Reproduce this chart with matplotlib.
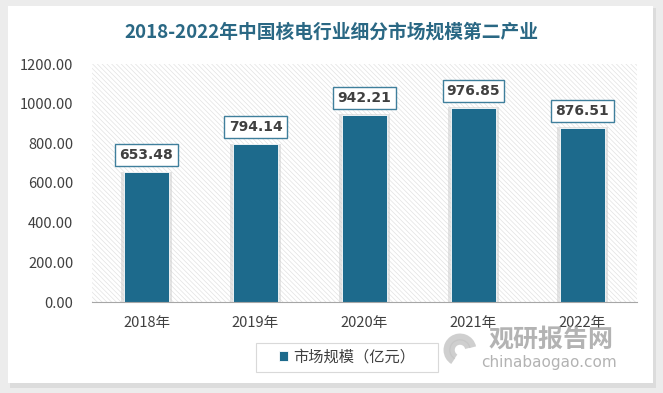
import matplotlib.pyplot as plt
from matplotlib.patches import Rectangle, Arc

plt.rcParams['font.family'] = ['Noto Sans CJK SC', 'DejaVu Sans']
plt.rcParams['hatch.linewidth'] = 0.5

# data
years = ["2018年", "2019年", "2020年", "2021年", "2022年"]
values = [653.48, 794.14, 942.21, 976.85, 876.51]
series_name = "市场规模（亿元）"
title = "2018-2022年中国核电行业细分市场规模第二产业"

bar_color = "#1d6a8c"
title_color = "#2a6884"

W, H = 663, 393
fig = plt.figure(figsize=(W / 100, H / 100), dpi=100)
fig.patch.set_facecolor("#ececec")

def px(x0, y0):
    # pixel position (from top left) -> figure fraction
    return x0 / W, 1 - y0 / H

# white card with soft shadow (behind the axes)
fig.patches.append(Rectangle(px(10, 388), 646 / W, 380 / H, transform=fig.transFigure,
                             facecolor="#dcdcdc", edgecolor="none", zorder=-10))
fig.patches.append(Rectangle(px(8, 383), 645 / W, 377 / H, transform=fig.transFigure,
                             facecolor="white", edgecolor="none", zorder=-9))

ax = fig.add_axes([92 / W, 1 - 302 / H, 545 / W, 238 / H])
ax.set_facecolor("none")

x = list(range(len(years)))
ax.set_xlim(-0.5, len(years) - 0.5)
ax.set_ylim(0, 1200)

# hatched plot area background
ax.add_patch(Rectangle((-0.5, 0), len(years), 1200, facecolor="white", edgecolor="#e2e2e2",
                       hatch="\\" * 7, linewidth=0, zorder=0))

# bar shadows then bars
ax.bar(x, [v + 4 for v in values], width=0.47, color="#cfcfcf", alpha=0.55, zorder=1)
ax.bar(x, values, width=0.42, color=bar_color, edgecolor="white", linewidth=0.6, zorder=2,
       label=series_name)

for i, v in zip(x, values):
    ax.text(i, v + 88, "%.2f" % v, ha="center", va="center", fontsize=10, fontweight="bold",
            color="#404040", family=["DejaVu Sans"],
            bbox=dict(boxstyle="square,pad=0.3", facecolor="white", edgecolor="#3f7f9c", linewidth=1),
            zorder=3)

ax.set_yticks(range(0, 1201, 200))
ax.set_yticklabels(["%.2f" % t for t in range(0, 1201, 200)], fontsize=10.5, color="#404040")
ax.set_xticks(x)
ax.set_xticklabels(years, fontsize=10.5, color="#404040")
ax.tick_params(axis="y", length=0, pad=13.5)
ax.tick_params(axis="x", length=0, pad=10)
for s in ["top", "right", "left"]:
    ax.spines[s].set_visible(False)
ax.spines["bottom"].set_color("#a6a6a6")
ax.spines["bottom"].set_zorder(4)

fig.text(*px(331, 32), title, ha="center", va="center", fontsize=13.5,
         fontweight="bold", color=title_color)

# legend with its own frame
fig.patches.append(Rectangle(px(256, 372), 182 / W, 29 / H, transform=fig.transFigure,
                             facecolor="white", edgecolor="#d9d9d9", linewidth=0.8))
leg = fig.legend(loc="center", bbox_to_anchor=px(347, 357), fontsize=11,
                 frameon=False, handlelength=0.6, handleheight=0.6, handletextpad=0.3)
for t in leg.get_texts():
    t.set_color("#404040")

# watermark
for r, lw in [(26, 5), (16, 4)]:
    fig.patches.append(Arc(px(460, 350), r / W, r / H, theta1=20, theta2=250,
                           transform=fig.transFigure, color="#c4c4c4", linewidth=lw, alpha=0.8))
fig.text(*px(551, 340), "观研报告网", ha="center", va="center", fontsize=18,
         fontweight="bold", color="#9a9a9a", alpha=0.75)
fig.text(*px(549, 363), "chinabaogao.com", ha="center", va="center", fontsize=11,
         color="#a0a0a0", alpha=0.8, family=["DejaVu Sans"])

fig.savefig("out.png", dpi=100)
